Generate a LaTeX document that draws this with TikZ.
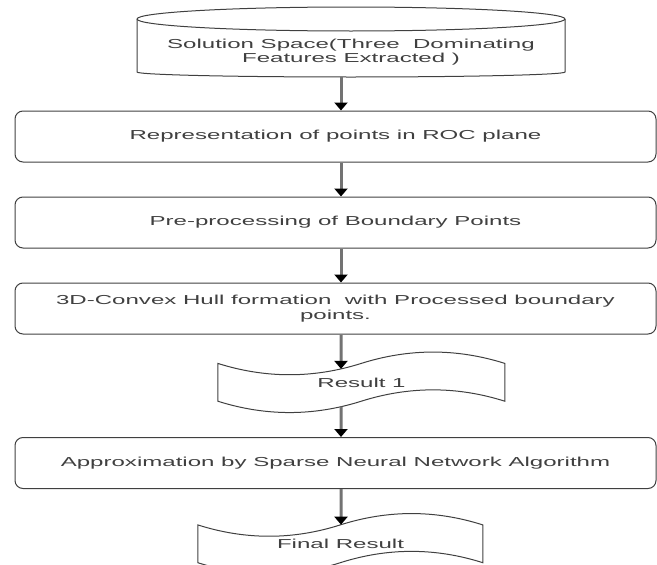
\documentclass[tikz,border=0pt]{standalone}
\usepackage{fontspec}
\newfontfamily\flowfont[FakeStretch=1.85]{Liberation Sans}
\usetikzlibrary{arrows.meta, calc, intersections}
\tikzset{
    outline/.style={draw=black!75, line width=1pt},
    flowtext/.style={font=\flowfont\fontsize{13}{14.5}\selectfont, text=black!75, align=center, inner sep=0pt},
    stepbox/.style={outline, flowtext, rounded corners=8pt, minimum width=641pt, minimum height=51pt},
    tapebox/.style={flowtext, minimum width=#1, minimum height=63pt},
    flow/.style={draw=black!55, line width=3pt, -{Triangle[length=8pt, width=13pt, color=black]}}
}
% tape outline from the node's north west corner: node, width, height
\newcommand{\tapeoutline}[3]{%
    \begin{scope}[shift={(#1.north west)}]
    \def\w{#2}
    \def\h{#3}
    \def\dy{0.4*#3}
    \draw[outline, name path global=#1path] (0,.5*\dy)
        .. controls (\w/6,1.1*\dy) and (\w/3,1.1*\dy) .. (\w/2,.5*\dy)
        .. controls (2*\w/3,-.1*\dy) and (5*\w/6,-.1*\dy) .. (\w,.5*\dy)
        -- (\w,\h-.5*\dy)
        .. controls (5*\w/6,\h-1.1*\dy) and (2*\w/3,\h-1.1*\dy) .. (\w/2,\h-.5*\dy)
        .. controls (\w/3,\h+.1*\dy) and (\w/6,\h+.1*\dy) .. (0,\h-.5*\dy) -- cycle;
    \end{scope}}

\begin{document}
\begin{tikzpicture}[x=1pt, y=-1pt]
    \useasboundingbox (0,0) rectangle (657,565);
    \def \rx {214}
    \coordinate (ax) at (341,0);
    % solution space cylinder
    \draw[outline] (137,19) -- (137,72) arc[start angle=180, end angle=0, x radius=\rx, y radius=5] -- (565,19);
    \draw[outline] (351,19) ellipse[x radius=\rx, y radius=12];
    \coordinate (solbot) at (341,77);
    \node[flowtext] (sol) at (351,52) {Solution Space(Three\ \ Dominating\\Features Extracted )};
    \node[stepbox] (b1) at (335.5,136.5) {Representation of points in ROC plane};
    \node[stepbox] (b2) at (335.5,222.5) {Pre-processing of Boundary Points};
    \node[stepbox] (b3) at (335.5,308.5) {3D-Convex Hull formation\ \ with Processed boundary\\points.};
    \node[tapebox=287pt] (res1) at (361.5,382.5) {Result 1};
    \node[stepbox] (b4) at (335.5,463) {Approximation by Sparse Neural Network Algorithm};
    \node[tapebox=285pt] (fin) at (340.5,544) {Final Result};
    \tapeoutline{res1}{287}{63}
    \tapeoutline{fin}{285}{63}
    \path[name path=axone] (ax |- b3.south) -- (ax |- b4.north);
    \path[name path=axtwo] (ax |- b4.south) -- (ax |- fin.south);
    \path[name intersections={of=res1path and axone, sort by=axone, by={r1top, r1bot}}];
    \path[name intersections={of=finpath and axtwo, sort by=axtwo, by={fintop}}];
    \draw[flow] (solbot) -- (ax |- b1.north);
    \draw[flow] (ax |- b1.south) -- (ax |- b2.north);
    \draw[flow] (ax |- b2.south) -- (ax |- b3.north);
    \draw[flow] (ax |- b3.south) -- (r1top);
    \draw[flow] (r1bot) -- (ax |- b4.north);
    \draw[flow] (ax |- b4.south) -- (fintop);
\end{tikzpicture}
\end{document}
